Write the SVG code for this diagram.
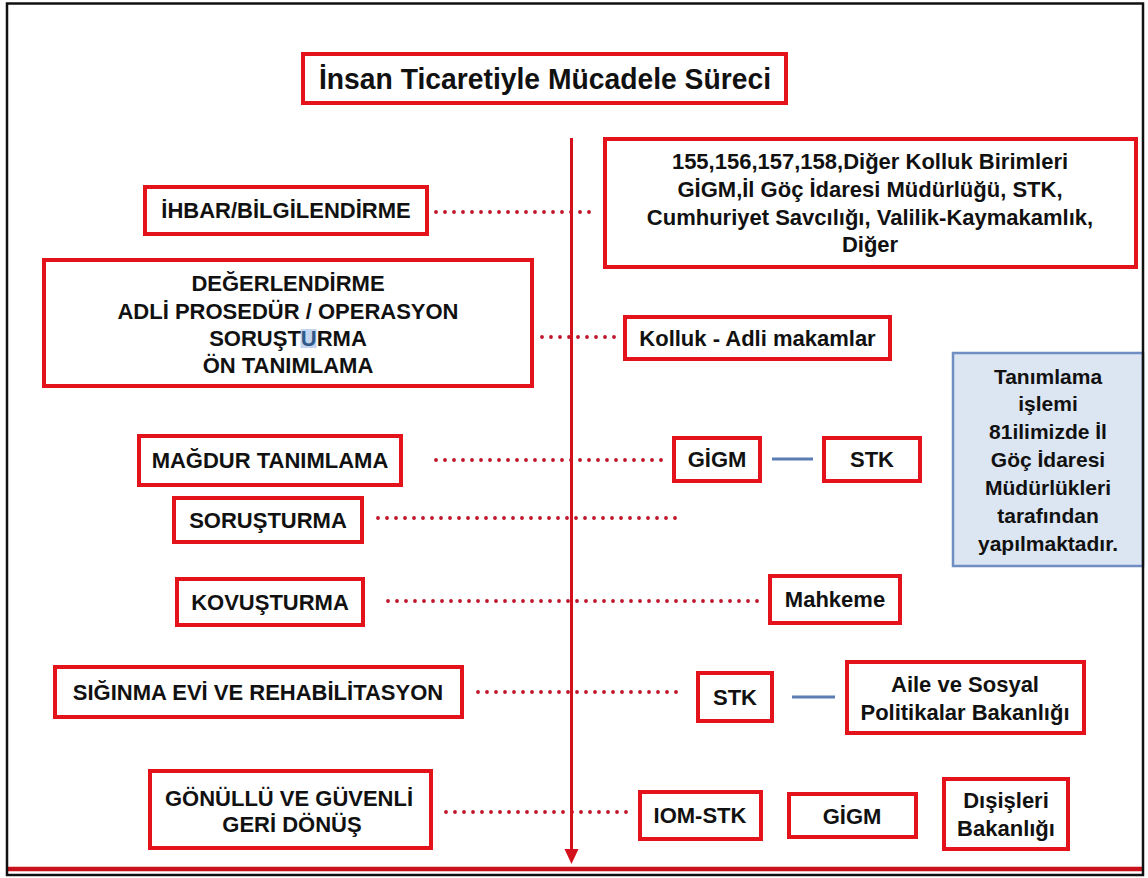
<svg xmlns="http://www.w3.org/2000/svg" width="1148" height="878" viewBox="0 0 1148 878">
<style>
.box{fill:#fff;stroke:#e3121b;stroke-width:4}
.t{font-family:"Liberation Sans",Arial,sans-serif;font-weight:bold;font-size:22px;fill:#111;text-anchor:middle}
.n{font-size:21px}
.dot{fill:none;stroke:#c0142a;stroke-width:3.8;stroke-dasharray:0 9;stroke-linecap:round}
.blu{fill:none;stroke:#5b7db3;stroke-width:3}
</style>
<rect x="0" y="0" width="1148" height="878" fill="#fff"/>

<g id="connectors">
<line x1="436" y1="212" x2="594" y2="212" class="dot"/>
<line x1="542" y1="337" x2="616" y2="337" class="dot"/>
<line x1="436" y1="460" x2="670" y2="460" class="dot"/>
<line x1="378" y1="518" x2="680" y2="518" class="dot"/>
<line x1="388" y1="601" x2="766" y2="601" class="dot"/>
<line x1="478" y1="692" x2="678" y2="692" class="dot"/>
<line x1="446" y1="812" x2="631" y2="812" class="dot"/>
<line x1="772" y1="459" x2="813" y2="459" class="blu"/>
<line x1="792" y1="697" x2="835" y2="697" class="blu"/>
<line x1="571.5" y1="138" x2="571.5" y2="850" stroke="#d3111c" stroke-width="3"/>
<path d="M564.5,849 L578.5,849 L571.5,864 Z" fill="#d3111c"/>
</g>

<g id="title">
<rect class="box" x="303" y="54" width="483" height="49"/>
<text class="t" x="545" y="89" style="font-size:30px" textLength="452" lengthAdjust="spacingAndGlyphs">İnsan Ticaretiyle Mücadele Süreci</text>
</g>

<g id="kaynaklar">
<rect class="box" x="605" y="139" width="531" height="128"/>
<text class="t" x="870" y="169">155,156,157,158,Diğer Kolluk Birimleri</text>
<text class="t" x="870" y="197">GİGM,İl Göç İdaresi Müdürlüğü, STK,</text>
<text class="t" x="870" y="225">Cumhuriyet Savcılığı, Valilik-Kaymakamlık,</text>
<text class="t" x="870" y="252">Diğer</text>
</g>

<g id="ihbar">
<rect class="box" x="145" y="187" width="282" height="47"/>
<text class="t" x="286" y="218">İHBAR/BİLGİLENDİRME</text>
</g>

<g id="degerlendirme">
<rect class="box" x="44" y="260" width="488" height="126"/>
<rect x="300.5" y="329" width="16" height="19" fill="#c3d5ee"/>
<text class="t" x="288" y="291">DEĞERLENDİRME</text>
<text class="t" x="288" y="319">ADLİ PROSEDÜR / OPERASYON</text>
<text class="t" x="288" y="346">SORUŞT<tspan fill="#2f5a8a">U</tspan>RMA</text>
<text class="t" x="288" y="373">ÖN TANIMLAMA</text>
</g>

<g id="kolluk">
<rect class="box" x="625" y="317" width="265" height="42"/>
<text class="t" x="757.5" y="346">Kolluk - Adli makamlar</text>
</g>

<g id="not">
<rect x="953" y="353" width="190" height="213" fill="#dce6f2" stroke="#6f8fc4" stroke-width="2.5"/>
<text class="t n" x="1048" y="384">Tanımlama</text>
<text class="t n" x="1048" y="411">işlemi</text>
<text class="t n" x="1048" y="439">81ilimizde İl</text>
<text class="t n" x="1048" y="467">Göç İdaresi</text>
<text class="t n" x="1048" y="495">Müdürlükleri</text>
<text class="t n" x="1048" y="523">tarafından</text>
<text class="t n" x="1048" y="551">yapılmaktadır.</text>
</g>

<g id="magdur">
<rect class="box" x="139" y="436" width="262" height="49"/>
<text class="t" x="270" y="468">MAĞDUR TANIMLAMA</text>
</g>

<g id="gigm1">
<rect class="box" x="674" y="438" width="86" height="43"/>
<text class="t" x="717" y="467">GİGM</text>
</g>

<g id="stk1">
<rect class="box" x="824" y="438" width="96" height="43"/>
<text class="t" x="872" y="467">STK</text>
</g>

<g id="sorusturma">
<rect class="box" x="174" y="498" width="188" height="44"/>
<text class="t" x="268" y="528">SORUŞTURMA</text>
</g>

<g id="kovusturma">
<rect class="box" x="177" y="579" width="186" height="46"/>
<text class="t" x="270" y="610">KOVUŞTURMA</text>
</g>

<g id="mahkeme">
<rect class="box" x="770" y="576" width="130" height="47"/>
<text class="t" x="835" y="607">Mahkeme</text>
</g>

<g id="siginma">
<rect class="box" x="55" y="667" width="407" height="50"/>
<text class="t" x="258" y="700">SIĞINMA EVİ VE REHABİLİTASYON</text>
</g>

<g id="stk2">
<rect class="box" x="698" y="673" width="74" height="48"/>
<text class="t" x="735" y="705">STK</text>
</g>

<g id="aile">
<rect class="box" x="847" y="662" width="237" height="71"/>
<text class="t" x="965" y="692">Aile ve Sosyal</text>
<text class="t" x="965" y="720">Politikalar Bakanlığı</text>
</g>

<g id="gonullu">
<rect class="box" x="150" y="771" width="281" height="77"/>
<text class="t" x="289" y="806">GÖNÜLLÜ VE GÜVENLİ</text>
<text class="t" x="292" y="832">GERİ DÖNÜŞ</text>
</g>

<g id="iomstk">
<rect class="box" x="640" y="792" width="121" height="47"/>
<text class="t" x="700" y="823">IOM-STK</text>
</g>

<g id="gigm2">
<rect class="box" x="789" y="794" width="127" height="43"/>
<text class="t" x="852" y="824">GİGM</text>
</g>

<g id="disisleri">
<rect class="box" x="944" y="779" width="124" height="70"/>
<text class="t" x="1006" y="808">Dışişleri</text>
<text class="t" x="1006" y="836">Bakanlığı</text>
</g>

<g id="frame">
<line x1="8" y1="869" x2="1142" y2="869" stroke="#c8111a" stroke-width="4.5"/>
<rect x="7" y="3.5" width="1136" height="871.5" fill="none" stroke="#111" stroke-width="2.5"/>
</g>
</svg>
